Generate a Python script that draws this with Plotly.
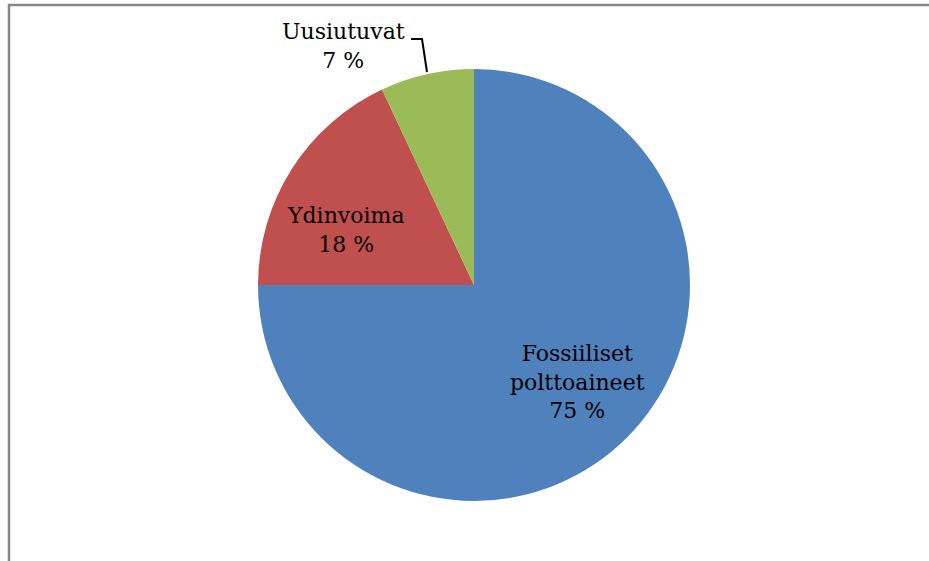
import plotly.graph_objects as go

labels = ["Fossiiliset polttoaineet", "Ydinvoima", "Uusiutuvat"]
label_text = ["Fossiiliset<br>polttoaineet", "Ydinvoima", "Uusiutuvat"]
values = [75, 18, 7]
colors = ["#4F81BD", "#C0504D", "#9BBB59"]

W, H = 929, 561
def px(x):
    return x / W
def py(y):
    return 1 - y / H

fig = go.Figure(go.Pie(
    labels=labels, values=values, sort=False, direction="clockwise", rotation=0,
    marker=dict(colors=colors, line=dict(width=0)),
    textinfo="none", hoverinfo="skip", showlegend=False,
    domain=dict(x=[px(258), px(690)], y=[py(501), py(69)]),
))

font = dict(family="DejaVu Serif", size=22, color="#000000")
label_pos = [(577, 382), (346, 230), (343, 46)]
annotations = []
for t, v, (x, y) in zip(label_text, values, label_pos):
    annotations.append(dict(
        text=f"{t}<br>{v} %", x=px(x), y=py(y), xref="paper", yref="paper",
        xanchor="center", yanchor="middle", showarrow=False, font=font, align="center"))

shapes = [
    dict(type="line", xref="paper", yref="paper", x0=px(8), x1=px(929), y0=py(5), y1=py(5),
         line=dict(color="#878787", width=2.5)),
    dict(type="line", xref="paper", yref="paper", x0=px(9), x1=px(9), y0=py(4), y1=py(561),
         line=dict(color="#878787", width=2.5)),
    dict(type="path", xref="paper", yref="paper",
         path=f"M {px(411)},{py(39)} L {px(422)},{py(39)} L {px(427)},{py(72)}",
         line=dict(color="#000000", width=2)),
]

fig.update_layout(width=W, height=H, margin=dict(l=0, r=0, t=0, b=0),
                  paper_bgcolor="white", plot_bgcolor="white",
                  annotations=annotations, shapes=shapes)
fig.write_html("out.html", config={"displayModeBar": False},
               post_script="document.body.style.margin='0';document.body.style.overflow='hidden';")
